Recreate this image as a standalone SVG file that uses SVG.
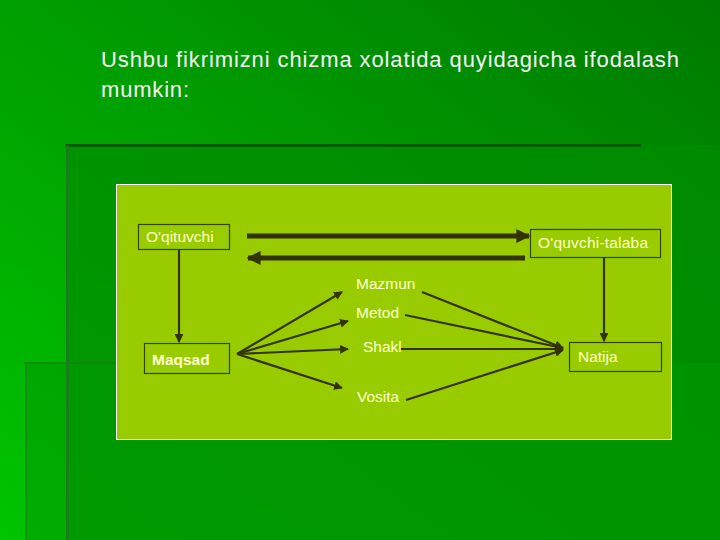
<svg xmlns="http://www.w3.org/2000/svg" width="720" height="540" viewBox="0 0 720 540">
<defs>
<linearGradient id="bg" x1="0" y1="1" x2="1" y2="0">
<stop offset="0" stop-color="#00c400"/>
<stop offset="1" stop-color="#007a00"/>
</linearGradient>
<marker id="ah" viewBox="0 0 10 10" refX="9" refY="5" markerWidth="2.8" markerHeight="3" orient="auto" markerUnits="strokeWidth">
<path d="M0,0 L10,5 L0,10 z" fill="#333300"/>
</marker>
<marker id="ahs" viewBox="0 0 10 10" refX="9" refY="5" markerWidth="4" markerHeight="4" orient="auto" markerUnits="strokeWidth">
<path d="M0,0 L10,5 L0,10 z" fill="#333300"/>
</marker>
<style>
.box{fill:none;stroke:#334400;stroke-width:1.2}
.lbl{font-family:"Liberation Sans",Arial,sans-serif;font-size:15.5px;fill:#ffffcc}
.ln{stroke:#333300;stroke-width:2.2;fill:none}
.thick{stroke:#333300;stroke-width:5;fill:none}
</style>
</defs>
<rect width="720" height="540" fill="url(#bg)"/>
<g id="decor">
<rect x="66" y="145" width="654" height="395" fill="#008c00" opacity="0.7"/>
<rect x="26" y="363" width="694" height="177" fill="#009800" opacity="0.5"/>
<rect x="65" y="144" width="576" height="3" fill="#005c00"/>
<rect x="66" y="145" width="3" height="395" fill="#1a7a1a" opacity="0.8"/>
<rect x="24" y="362" width="94" height="2" fill="#1a7a1a" opacity="0.6"/>
<rect x="25" y="363" width="2" height="177" fill="#1a7a1a" opacity="0.6"/>
</g>
<g id="title" font-family="'Liberation Sans',Arial,sans-serif" font-size="22" fill="#f4f4f4">
<text x="101" y="67" textLength="578" lengthAdjust="spacing">Ushbu fikrimizni chizma xolatida quyidagicha ifodalash</text>
<text x="101" y="97" textLength="88" lengthAdjust="spacing">mumkin:</text>
</g>
<rect id="panel" x="116.5" y="184.5" width="555" height="255" fill="#99cc00" stroke="#ffffff" stroke-width="1"/>
<g id="connectors">
<path class="thick" d="M247,236 H529" marker-end="url(#ah)"/>
<path class="thick" d="M525,258 H248" marker-end="url(#ah)"/>
<path class="ln" d="M179,250 V342" marker-end="url(#ahs)"/>
<path class="ln" d="M604,258 V341" marker-end="url(#ahs)"/>
<path class="ln" d="M237,354 L342,292" marker-end="url(#ahs)"/>
<path class="ln" d="M237,354 L348,321" marker-end="url(#ahs)"/>
<path class="ln" d="M237,354 L348,349" marker-end="url(#ahs)"/>
<path class="ln" d="M237,354 L342,388" marker-end="url(#ahs)"/>
<path class="ln" d="M422,292 L563,348" marker-end="url(#ahs)"/>
<path class="ln" d="M405,315 L563,348" marker-end="url(#ahs)"/>
<path class="ln" d="M400,349 L563,349" marker-end="url(#ahs)"/>
<path class="ln" d="M406,400 L563,350" marker-end="url(#ahs)"/>
</g>
<g id="oqituvchi"><rect class="box" x="138.5" y="224.5" width="91" height="25"/><text class="lbl" x="146" y="242" font-size="13">O'qituvchi</text></g>
<g id="oquvchi"><rect class="box" x="530.5" y="229.5" width="130" height="28"/><text class="lbl" x="538" y="248" textLength="110" lengthAdjust="spacing">O'quvchi-talaba</text></g>
<g id="maqsad"><rect class="box" x="144.5" y="343.5" width="85" height="30"/><text class="lbl" x="152" y="365" font-size="19" font-weight="bold">Maqsad</text></g>
<g id="natija"><rect class="box" x="569.5" y="342.5" width="92" height="29"/><text class="lbl" x="578" y="362">Natija</text></g>
<g id="mazmun"><text class="lbl" x="356" y="289">Mazmun</text></g>
<g id="metod"><text class="lbl" x="356" y="318">Metod</text></g>
<g id="shakl"><text class="lbl" x="363" y="352">Shakl</text></g>
<g id="vosita"><text class="lbl" x="357" y="402">Vosita</text></g>
</svg>
